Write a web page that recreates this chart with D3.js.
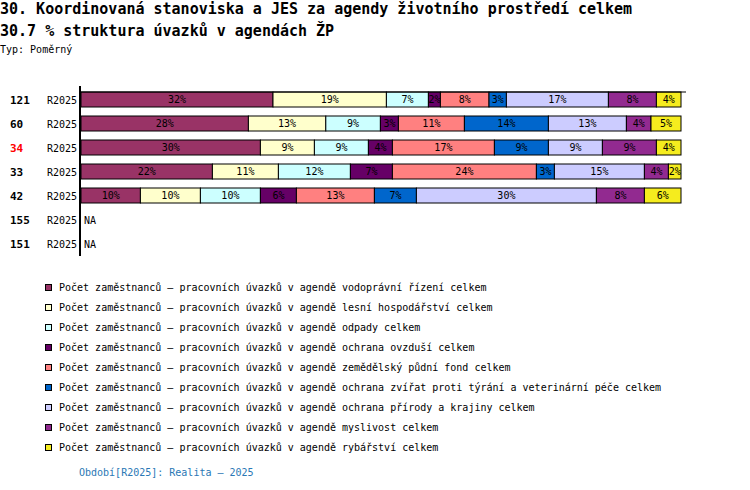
<!DOCTYPE html>
<html>
<head>
<meta charset="utf-8">
<script src="https://cdn.jsdelivr.net/npm/d3@7"></script>
<style>
  body { margin: 0; background: #fff; }
  svg { display: block; font-family: "DejaVu Sans Mono", "Liberation Mono", monospace; }
</style>
</head>
<body>
<div id="chart"></div>
<script>
// --- Daten ---
const rowIds = ["121", "60", "34", "33", "42", "155", "151"];
const rowPeriods = ["R2025", "R2025", "R2025", "R2025", "R2025", "R2025", "R2025"];
const highlightRow = "34";

const seriesNames = [
  "Počet zaměstnanců – pracovních úvazků v agendě vodoprávní řízení celkem",
  "Počet zaměstnanců – pracovních úvazků v agendě lesní hospodářství celkem",
  "Počet zaměstnanců – pracovních úvazků v agendě odpady celkem",
  "Počet zaměstnanců – pracovních úvazků v agendě ochrana ovzduší celkem",
  "Počet zaměstnanců – pracovních úvazků v agendě zemědělský půdní fond celkem",
  "Počet zaměstnanců – pracovních úvazků v agendě ochrana zvířat proti týrání a veterinární péče celkem",
  "Počet zaměstnanců – pracovních úvazků v agendě ochrana přírody a krajiny celkem",
  "Počet zaměstnanců – pracovních úvazků v agendě myslivost celkem",
  "Počet zaměstnanců – pracovních úvazků v agendě rybářství celkem"
];
const seriesColors = ["#993366", "#ffffcc", "#ccffff", "#660066", "#ff8080", "#0066cc", "#ccccff", "#922a90", "#f5ec1e"];

// Podíly v % pro každý řádek (null = NA)
const share121 = [32, 18.9, 7, 2, 8.1, 2.9, 17, 8, 4.1];
const share60  = [27.9, 12.9, 9.1, 3, 11, 14, 13, 4.1, 5];
const share34  = [29.9, 9, 9, 4, 17, 9, 9, 9, 4.1];
const share33  = [21.9, 11, 12, 7, 24, 3, 15, 4, 2.1];
const share42  = [9.9, 10, 10, 6, 13, 7, 30, 8, 6.1];
const share155 = null;
const share151 = null;
const rowShares = [share121, share60, share34, share33, share42, share155, share151];

const titleLine1 = "30. Koordinovaná stanoviska a JES za agendy životního prostředí celkem";
const titleLine2 = "30.7 % struktura úvazků v agendách ŽP";
const typeLabel = "Typ: Poměrný";
const footerLabel = "Období[R2025]: Realita – 2025";

// --- Zeichenfläche ---
const width = 750, height = 490;
const svg = d3.select("#chart").append("svg")
  .attr("width", width)
  .attr("height", height);

// Titel
svg.append("text").attr("x", 0).attr("y", 13.5)
  .style("font-size", "15px").style("font-weight", "bold")
  .text(titleLine1);
svg.append("text").attr("x", 0).attr("y", 36)
  .style("font-size", "15px").style("font-weight", "bold")
  .text(titleLine2);
svg.append("text").attr("x", 0).attr("y", 53)
  .style("font-size", "10px")
  .text(typeLabel);

// Skalen
const x = d3.scaleLinear().domain([0, 100]).range([81, 681]);
const y = d3.scaleBand()
  .domain(rowIds)
  .range([87.5, 87.5 + 24 * rowIds.length])
  .paddingInner(0.375)
  .paddingOuter(0.1875);

// Balken
rowIds.forEach((id, i) => {
  const shares = rowShares[i];
  const yc = y(id) + y.bandwidth() / 2;

  svg.append("text")
    .attr("x", 10).attr("y", yc + 4)
    .style("font-size", "11px").style("font-weight", "bold")
    .attr("fill", id === highlightRow ? "#ff0000" : "#000")
    .text(id);
  svg.append("text")
    .attr("x", 47).attr("y", yc + 4)
    .style("font-size", "10px")
    .text(rowPeriods[i]);

  if (!shares) {
    svg.append("text")
      .attr("x", 84).attr("y", yc + 4)
      .style("font-size", "10px")
      .text("NA");
    return;
  }

  const stacked = [];
  let acc = 0;
  shares.forEach((v, k) => {
    stacked.push({ k, v, x0: acc, x1: acc + v });
    acc += v;
  });

  const g = svg.append("g");
  g.selectAll("rect")
    .data(stacked)
    .enter()
    .append("rect")
    .attr("x", d => x(d.x0))
    .attr("y", y(id))
    .attr("width", d => x(d.x1) - x(d.x0))
    .attr("height", y.bandwidth())
    .attr("fill", d => seriesColors[d.k])
    .attr("stroke", "#000")
    .attr("stroke-width", 1);

  g.selectAll("text")
    .data(stacked)
    .enter()
    .append("text")
    .attr("x", d => (x(d.x0) + x(d.x1)) / 2)
    .attr("y", yc + 3.5)
    .attr("text-anchor", "middle")
    .style("font-size", "10px")
    .text(d => Math.round(d.v) + "%");
});

// Achsen
svg.append("line")
  .attr("x1", 80).attr("x2", 80)
  .attr("y1", 86).attr("y2", 256)
  .attr("stroke", "#000").attr("stroke-width", 2);
svg.append("line")
  .attr("x1", 80).attr("x2", 686)
  .attr("y1", y(rowIds[0])).attr("y2", y(rowIds[0]))
  .attr("stroke", "#000").attr("stroke-width", 1);

// Legende
const legend = svg.append("g");
seriesNames.forEach((name, k) => {
  const ly = 287.5 + 20 * k;
  legend.append("rect")
    .attr("x", 45.5).attr("y", ly - 3)
    .attr("width", 6).attr("height", 6)
    .attr("fill", seriesColors[k])
    .attr("stroke", "#000");
  legend.append("text")
    .attr("x", 59).attr("y", ly + 3.5)
    .style("font-size", "10px")
    .text(name);
});

// Fußzeile
svg.append("text")
  .attr("x", 79).attr("y", 476)
  .style("font-size", "10px")
  .attr("fill", "#2a78b5")
  .text(footerLabel);
</script>
</body>
</html>
